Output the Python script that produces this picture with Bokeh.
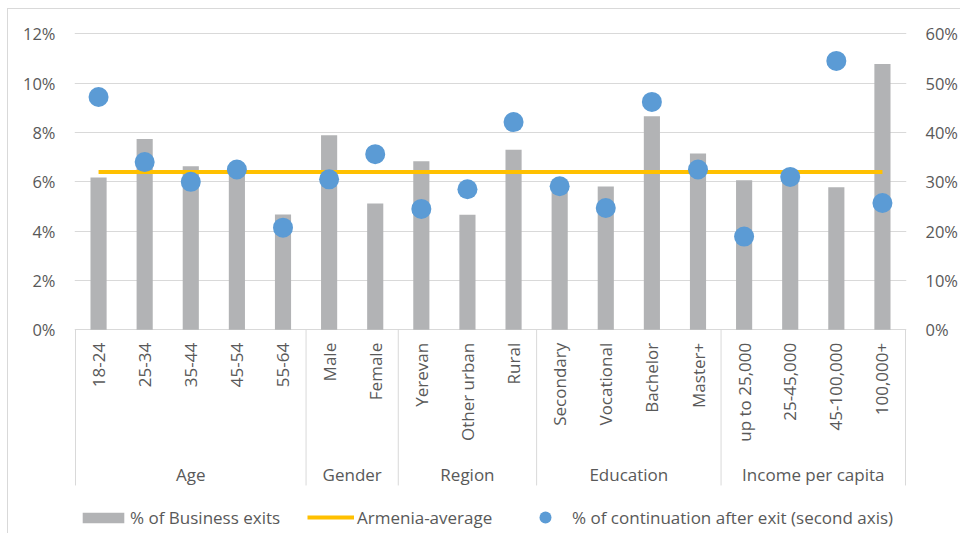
import math
from bokeh.plotting import figure
from bokeh.models import (Range1d, LinearAxis, FixedTicker, PrintfTickFormatter,
                          Legend, LegendItem)
from bokeh.core.properties import value
from bokeh.embed import file_html
from bokeh.resources import INLINE

# ---------------- data ----------------
categories = ["18-24", "25-34", "35-44", "45-54", "55-64",
              "Male", "Female",
              "Yerevan", "Other urban", "Rural",
              "Secondary", "Vocational", "Bachelor", "Master+",
              "up to 25,000", "25-45,000", "45-100,000", "100,000+"]
groups = ["Age", "Gender", "Region", "Education", "Income per capita"]
group_sizes = [5, 2, 3, 4, 4]

business_exits = [6.17, 7.74, 6.63, 6.45, 4.67,
                  7.89, 5.12,
                  6.83, 4.66, 7.30,
                  5.80, 5.81, 8.66, 7.15,
                  6.06, 6.20, 5.78, 10.78]
continuation = [47.2, 34.0, 30.0, 32.5, 20.7,
                30.5, 35.6,
                24.5, 28.5, 42.1,
                29.1, 24.7, 46.2, 32.5,
                18.9, 31.0, 54.5, 25.7]
armenia_average = 6.4

left_ticks = [0, 2, 4, 6, 8, 10, 12]
right_ticks = [0, 10, 20, 30, 40, 50, 60]

# ---------------- style ----------------
FONT = "Open Sans"
TXT = "#595959"
GRID = "#D9D9D9"
BAR = "#B2B3B5"
AVG = "#FFC000"
DOT = "#5B9BD5"

n = len(categories)
xs = [i + 0.5 for i in range(n)]
bounds = [0]
for s in group_sizes:
    bounds.append(bounds[-1] + s)
group_centers = [(bounds[i] + bounds[i + 1]) / 2 for i in range(len(groups))]

y_lo, y_hi = -8.298, 12.053
ext = 1 / 46.11

p = figure(width=953, height=525, output_backend="svg", toolbar_location=None,
           title=None, x_axis_location=None, y_axis_location="left",
           x_range=Range1d(-ext, n + ext), y_range=Range1d(y_lo, y_hi),
           min_border_left=66, min_border_right=55, min_border_top=23,
           min_border_bottom=0)
p.styles = {"border-top": "1px solid #D9D9D9", "border-left": "1px solid #D9D9D9",
            "margin-left": "7px", "margin-top": "8px"}
p.outline_line_color = None
p.background_fill_color = "white"
p.border_fill_color = "white"
p.extra_y_ranges = {"right": Range1d(y_lo * 5, y_hi * 5)}

for g in p.xgrid:
    g.visible = False
p.ygrid.ticker = FixedTicker(ticks=left_ticks)
p.ygrid.grid_line_color = GRID
p.ygrid.grid_line_width = 1

def style_axis(ax, ticks, standoff):
    ax.ticker = FixedTicker(ticks=ticks)
    ax.formatter = PrintfTickFormatter(format="%d%%")
    ax.axis_line_color = None
    ax.major_tick_line_color = None
    ax.minor_tick_line_color = None
    ax.major_tick_out = 0
    ax.major_tick_in = 0
    ax.major_label_standoff = standoff
    ax.major_label_text_font = FONT
    ax.major_label_text_font_size = "16.5px"
    ax.major_label_text_color = TXT

style_axis(p.yaxis[0], left_ticks, 19)
right_axis = LinearAxis(y_range_name="right")
style_axis(right_axis, right_ticks, 19)
p.add_layout(right_axis, "right")

# group separators on the category axis
p.segment(x0=bounds, y0=[0] * len(bounds), x1=bounds, y1=[-6.31] * len(bounds),
          line_color=GRID, line_width=1)

bars = p.vbar(x=xs, top=business_exits, bottom=0, width=0.35,
              fill_color=BAR, line_color=None)
avg_line = p.line(x=[xs[0], xs[-1]], y=[armenia_average, armenia_average],
                  line_color=AVG, line_width=4)
dots = p.scatter(x=xs, y=continuation, size=20, fill_color=DOT, line_color=None,
                 y_range_name="right")

# category labels (vertical) and group labels
p.text(x=xs, y=[0] * n, text=categories, angle=math.pi / 2, y_offset=13,
       text_align="right", text_baseline="middle", text_font=value(FONT),
       text_font_size="17px", text_color=TXT)
p.text(x=group_centers, y=[0] * len(groups), text=groups, y_offset=145,
       text_align="center", text_baseline="middle", text_font=value(FONT),
       text_font_size="17px", text_color=TXT)

def make_legend(label, rend, loc, gw, gh, standoff):
    leg = Legend(items=[LegendItem(label=label, renderers=[rend])], location=loc,
                 orientation="horizontal", glyph_width=gw, glyph_height=gh,
                 label_height=gh, label_standoff=standoff, padding=0, margin=0,
                 border_line_color=None, background_fill_alpha=0,
                 label_text_font=FONT, label_text_font_size="17px",
                 label_text_color=TXT, spacing=0)
    p.add_layout(leg)

make_legend("% of Business exits", bars, (3, 5), 52, 13, 1)
make_legend("Armenia-average", avg_line, (233, 5), 47, 24, 3)
make_legend("% of continuation after exit (second axis)", dots, (456, 2), 30, 30, 12)

open("out.html", "w").write(file_html(p, INLINE))
